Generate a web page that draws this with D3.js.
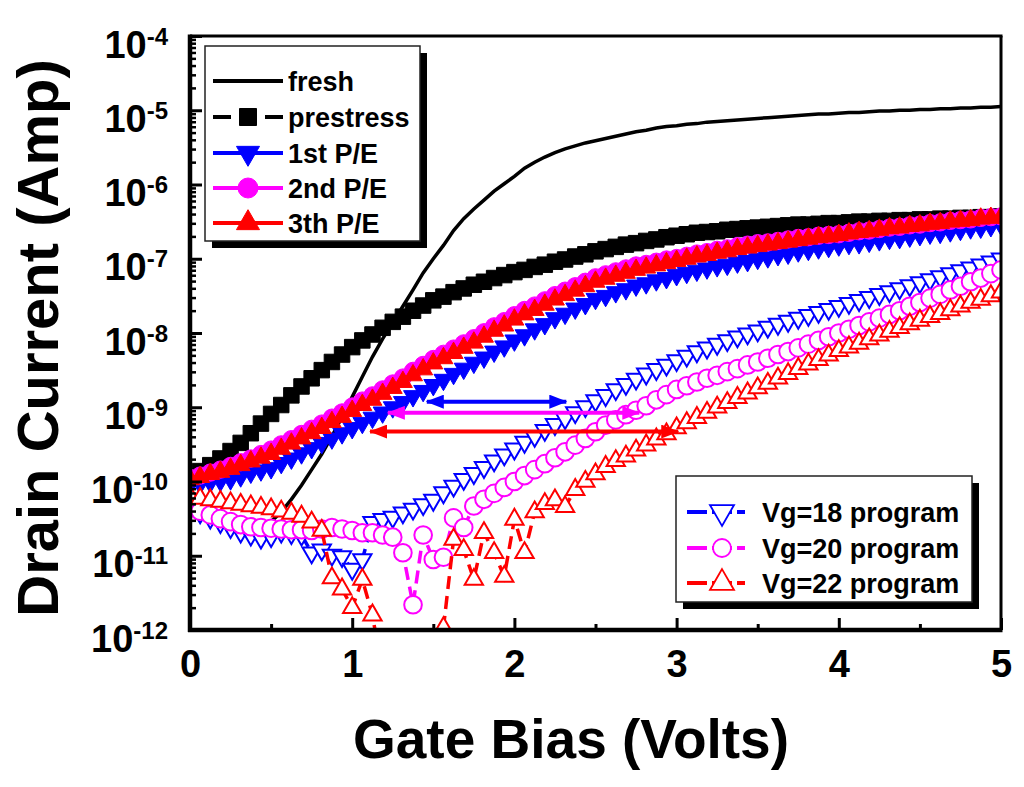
<!DOCTYPE html>
<html>
<head>
<meta charset="utf-8">
<script src="https://cdn.jsdelivr.net/npm/d3@7"></script>
<style>
  body { margin: 0; background: #fff; }
  svg text { font-family: "Liberation Sans", Arial, sans-serif; font-weight: bold; fill: #000; }
</style>
</head>
<body>
<div id="chart"></div>
<script>
// gate bias sweep (V) shared by all curves
const gateBias = [0,0.0625,0.125,0.1875,0.25,0.3125,0.375,0.4375,0.5,0.5625,0.625,0.6875,0.75,0.8125,0.875,0.9375,
  1,1.0625,1.125,1.1875,1.25,1.3125,1.375,1.4375,1.5,1.5625,1.625,1.6875,1.75,1.8125,1.875,1.9375,
  2,2.0625,2.125,2.1875,2.25,2.3125,2.375,2.4375,2.5,2.5625,2.625,2.6875,2.75,2.8125,2.875,2.9375,
  3,3.0625,3.125,3.1875,3.25,3.3125,3.375,3.4375,3.5,3.5625,3.625,3.6875,3.75,3.8125,3.875,3.9375,
  4,4.0625,4.125,4.1875,4.25,4.3125,4.375,4.4375,4.5,4.5625,4.625,4.6875,4.75,4.8125,4.875,4.9375,5];

// drain current, stored as log10(A)
const freshLog = [-10.28,-10.36,-10.43,-10.50,-10.57,-10.63,-10.66,-10.63,-10.54,-10.41,-10.24,-10.05,-9.84,-9.63,-9.39,-9.13,
  -8.86,-8.59,-8.32,-8.08,-7.86,-7.64,-7.42,-7.19,-7.00,-6.82,-6.62,-6.46,-6.33,-6.21,-6.09,-5.99,
  -5.89,-5.78,-5.70,-5.63,-5.57,-5.52,-5.48,-5.44,-5.41,-5.38,-5.35,-5.32,-5.29,-5.27,-5.24,-5.22,
  -5.21,-5.19,-5.18,-5.16,-5.15,-5.14,-5.13,-5.12,-5.11,-5.10,-5.09,-5.08,-5.07,-5.06,-5.05,-5.05,
  -5.04,-5.03,-5.03,-5.02,-5.01,-5.01,-5.00,-5.00,-4.99,-4.99,-4.98,-4.98,-4.97,-4.97,-4.96,-4.96,-4.95];

const prestressLog = [-9.93,-9.86,-9.78,-9.69,-9.59,-9.48,-9.35,-9.22,-9.09,-8.97,-8.84,-8.72,-8.61,-8.50,-8.39,-8.29,
  -8.19,-8.10,-8.02,-7.93,-7.85,-7.78,-7.70,-7.63,-7.56,-7.51,-7.45,-7.40,-7.35,-7.31,-7.26,-7.22,
  -7.18,-7.15,-7.11,-7.08,-7.04,-7.01,-6.97,-6.94,-6.90,-6.87,-6.84,-6.81,-6.79,-6.76,-6.74,-6.71,
  -6.69,-6.67,-6.65,-6.64,-6.63,-6.61,-6.60,-6.59,-6.58,-6.57,-6.56,-6.55,-6.54,-6.54,-6.53,-6.52,
  -6.52,-6.51,-6.50,-6.50,-6.49,-6.49,-6.48,-6.48,-6.47,-6.47,-6.46,-6.46,-6.45,-6.45,-6.44,-6.44,-6.43];

const pe1Log = [-10.04,-10.03,-10.01,-9.99,-9.97,-9.93,-9.88,-9.85,-9.82,-9.75,-9.69,-9.62,-9.55,-9.48,-9.42,-9.35,
  -9.28,-9.21,-9.14,-9.07,-9.00,-8.93,-8.85,-8.78,-8.70,-8.63,-8.55,-8.48,-8.40,-8.33,-8.25,-8.18,
  -8.10,-8.03,-7.95,-7.88,-7.80,-7.74,-7.67,-7.61,-7.54,-7.50,-7.45,-7.41,-7.36,-7.33,-7.29,-7.26,
  -7.22,-7.19,-7.16,-7.13,-7.10,-7.08,-7.05,-7.03,-7.00,-6.98,-6.95,-6.93,-6.90,-6.88,-6.86,-6.84,
  -6.82,-6.80,-6.79,-6.77,-6.75,-6.73,-6.72,-6.70,-6.68,-6.66,-6.65,-6.63,-6.61,-6.59,-6.58,-6.56,-6.54];

const pe2Log = [-9.95,-9.92,-9.88,-9.84,-9.79,-9.74,-9.69,-9.63,-9.57,-9.50,-9.43,-9.36,-9.29,-9.22,-9.14,-9.07,
  -8.99,-8.91,-8.84,-8.76,-8.68,-8.60,-8.51,-8.43,-8.35,-8.28,-8.21,-8.14,-8.07,-7.99,-7.91,-7.84,
  -7.76,-7.69,-7.63,-7.56,-7.49,-7.43,-7.37,-7.31,-7.25,-7.21,-7.17,-7.13,-7.09,-7.07,-7.04,-7.01,
  -6.99,-6.96,-6.93,-6.91,-6.88,-6.86,-6.83,-6.81,-6.79,-6.78,-6.76,-6.74,-6.72,-6.71,-6.69,-6.68,
  -6.67,-6.65,-6.63,-6.62,-6.60,-6.58,-6.57,-6.55,-6.54,-6.52,-6.51,-6.49,-6.48,-6.47,-6.45,-6.44,-6.43];

const pe3Log = [-9.97,-9.94,-9.90,-9.87,-9.83,-9.78,-9.73,-9.68,-9.63,-9.56,-9.49,-9.42,-9.35,-9.28,-9.20,-9.13,
  -9.05,-8.97,-8.90,-8.82,-8.74,-8.66,-8.57,-8.49,-8.41,-8.34,-8.27,-8.20,-8.13,-8.05,-7.97,-7.90,
  -7.82,-7.75,-7.69,-7.62,-7.55,-7.49,-7.43,-7.37,-7.31,-7.27,-7.23,-7.19,-7.15,-7.12,-7.09,-7.06,
  -7.03,-7.00,-6.97,-6.95,-6.92,-6.90,-6.87,-6.85,-6.83,-6.81,-6.79,-6.77,-6.75,-6.73,-6.71,-6.70,
  -6.68,-6.66,-6.64,-6.63,-6.61,-6.59,-6.58,-6.56,-6.55,-6.53,-6.52,-6.50,-6.49,-6.48,-6.46,-6.45,-6.44];

const vg18Log = [-10.35,-10.42,-10.49,-10.55,-10.62,-10.68,-10.72,-10.76,-10.74,-10.68,-10.70,-10.72,-10.96,-10.92,-10.99,-11.01,
  -11.18,-11.05,-10.55,-10.51,-10.48,-10.42,-10.37,-10.31,-10.25,-10.15,-10.06,-9.97,-9.89,-9.81,-9.72,-9.64,
  -9.56,-9.47,-9.39,-9.31,-9.23,-9.15,-9.07,-8.99,-8.91,-8.84,-8.76,-8.69,-8.62,-8.55,-8.49,-8.43,
  -8.37,-8.31,-8.25,-8.20,-8.15,-8.10,-8.05,-8.01,-7.97,-7.92,-7.88,-7.84,-7.80,-7.76,-7.72,-7.68,
  -7.64,-7.60,-7.56,-7.52,-7.48,-7.44,-7.40,-7.36,-7.32,-7.28,-7.24,-7.20,-7.16,-7.12,-7.08,-7.04,-7.00];

const vg20Log = [-10.36,-10.40,-10.45,-10.50,-10.54,-10.58,-10.61,-10.62,-10.63,-10.64,-10.65,-10.65,-10.66,-10.64,-10.62,-10.64,
  -10.66,-10.69,-10.69,-10.72,-10.75,-10.96,-11.66,-10.72,-11.05,-11.02,-10.49,-10.62,-10.33,-10.24,-10.16,-10.08,
  -10.00,-9.92,-9.84,-9.76,-9.68,-9.60,-9.51,-9.42,-9.33,-9.24,-9.17,-9.10,-9.04,-8.98,-8.90,-8.83,
  -8.76,-8.71,-8.66,-8.61,-8.57,-8.52,-8.48,-8.43,-8.39,-8.34,-8.29,-8.25,-8.20,-8.15,-8.10,-8.05,
  -8.00,-7.95,-7.90,-7.85,-7.80,-7.75,-7.70,-7.64,-7.59,-7.53,-7.48,-7.42,-7.37,-7.31,-7.26,-7.20,-7.15];

const vg22Log = [-10.20,-10.23,-10.25,-10.27,-10.29,-10.31,-10.33,-10.35,-10.37,-10.40,-10.43,-10.47,-10.55,-10.66,-11.30,-11.45,
  -11.70,-11.32,-11.80,-12.60,-12.80,-12.50,-12.70,-12.40,-12.60,-11.97,-10.78,-10.92,-11.32,-10.69,-10.96,-11.28,
  -10.51,-10.96,-10.41,-10.30,-10.25,-10.34,-10.11,-10.00,-9.90,-9.80,-9.72,-9.66,-9.58,-9.51,-9.43,-9.36,
  -9.28,-9.21,-9.14,-9.07,-9.00,-8.94,-8.87,-8.81,-8.74,-8.68,-8.61,-8.55,-8.48,-8.42,-8.36,-8.30,
  -8.24,-8.19,-8.14,-8.08,-8.03,-7.98,-7.93,-7.88,-7.83,-7.78,-7.74,-7.69,-7.64,-7.59,-7.55,-7.50,-7.45];

const seriesNames = ["fresh", "prestress", "1st P/E", "2nd P/E", "3th P/E",
  "Vg=18 program", "Vg=20 program", "Vg=22 program"];
const seriesLogs = [freshLog, prestressLog, pe1Log, pe2Log, pe3Log, vg18Log, vg20Log, vg22Log];

// threshold-shift arrows (V from, V to, current level)
const arrowFrom = [1.46, 1.22, 1.11];
const arrowTo = [2.32, 2.77, 3.01];
const arrowCurrent = [1.19e-9, 8.4e-10, 4.7e-10];
const arrowColors = ["#0000ff", "#ff00ff", "#ff0000"];

const xTicks = [0, 1, 2, 3, 4, 5];
const xMinorTicks = [0.5, 1.5, 2.5, 3.5, 4.5];
const yDecades = [-12, -11, -10, -9, -8, -7, -6, -5, -4];

// ---- drawing styles (not data)
const styles = [
  {color: "#000", symbol: null, width: 3.5},
  {color: "#000", symbol: d3.symbolSquare, size: 240, filled: true, width: 2, dash: "10,6", lsize: 289},
  {color: "#0000ff", symbol: d3.symbolTriangle, size: 155, filled: true, down: true, width: 2, lsize: 230},
  {color: "#ff00ff", symbol: d3.symbolCircle, size: 235, filled: true, width: 2, lsize: 314},
  {color: "#ff0000", symbol: d3.symbolTriangle, size: 155, filled: true, width: 2, lsize: 230},
  {color: "#0000ff", symbol: d3.symbolTriangle, size: 145, filled: false, down: true, width: 3.5, dash: "13,7", lsize: 250},
  {color: "#ff00ff", symbol: d3.symbolCircle, size: 245, filled: false, width: 3.5, dash: "13,7", lsize: 254},
  {color: "#ff0000", symbol: d3.symbolTriangle, size: 145, filled: false, width: 3.5, dash: "13,7", lsize: 250}
];

const width = 1024, height = 787;
const plot = {left: 190, right: 1001, top: 36, bottom: 630};

const svg = d3.select("#chart").append("svg")
  .attr("width", width)
  .attr("height", height);

const x = d3.scaleLinear().domain([0, 5]).range([plot.left, plot.right]);
const y = d3.scaleLog().domain([1e-12, 1e-4]).range([plot.bottom, plot.top]);

svg.append("defs").append("clipPath").attr("id", "plotClip")
  .append("rect")
  .attr("x", plot.left).attr("y", plot.top)
  .attr("width", plot.right - plot.left).attr("height", plot.bottom - plot.top);

// build table for the library
const series = seriesNames.map((name, i) => ({
  name: name,
  style: styles[i],
  points: gateBias.map((v, j) => ({v: v, id: Math.pow(10, seriesLogs[i][j])}))
}));

const line = d3.line().x(d => x(d.v)).y(d => y(d.id));

const plotG = svg.append("g").attr("clip-path", "url(#plotClip)");

function markerPath(st, size) {
  return d3.symbol().type(st.symbol).size(size)();
}

series.forEach(s => {
  const st = s.style;
  const g = plotG.append("g");
  g.append("path")
    .datum(s.points)
    .attr("d", line)
    .attr("fill", "none")
    .attr("stroke", st.color)
    .attr("stroke-width", st.width)
    .attr("stroke-dasharray", st.dash || null);
  if (st.symbol) {
    g.selectAll("path.pt")
      .data(s.points)
      .enter().append("path")
      .attr("class", "pt")
      .attr("d", markerPath(st, st.size))
      .attr("transform", d => `translate(${x(d.v)},${y(d.id)})` + (st.down ? " rotate(180)" : ""))
      .attr("fill", st.filled ? st.color : "#fff")
      .attr("stroke", st.color)
      .attr("stroke-width", st.filled ? 1 : 2);
  }
});

// arrows
const defs = svg.select("defs");
arrowColors.forEach((c, i) => {
  defs.append("marker")
    .attr("id", "arrow" + i)
    .attr("viewBox", "0 0 18 14")
    .attr("refX", 17).attr("refY", 7)
    .attr("markerWidth", 18).attr("markerHeight", 14)
    .attr("markerUnits", "userSpaceOnUse")
    .attr("orient", "auto-start-reverse")
    .append("path")
    .attr("d", "M0,0L18,7L0,14Z")
    .attr("fill", c);
});

svg.append("g").selectAll("line")
  .data(arrowFrom.map((a, i) => ({from: a, to: arrowTo[i], level: arrowCurrent[i], i: i})))
  .enter().append("line")
  .attr("x1", d => x(d.from)).attr("x2", d => x(d.to))
  .attr("y1", d => y(d.level)).attr("y2", d => y(d.level))
  .attr("stroke", d => arrowColors[d.i])
  .attr("stroke-width", 4)
  .attr("marker-start", d => `url(#arrow${d.i})`)
  .attr("marker-end", d => `url(#arrow${d.i})`);

// axes
const xAxis = d3.axisBottom(x).tickValues(xTicks).tickSize(-12).tickSizeOuter(0).tickPadding(20)
  .tickFormat(d3.format("d"));
const gx = svg.append("g").attr("transform", `translate(0,${plot.bottom})`).call(xAxis);
gx.select(".domain").remove();
gx.selectAll(".tick line").attr("stroke", "#000").attr("stroke-width", 3);
gx.selectAll(".tick text").style("font-size", "38px");

const gxm = svg.append("g").attr("transform", `translate(0,${plot.bottom})`)
  .call(d3.axisBottom(x).tickValues(xMinorTicks).tickSize(-6).tickSizeOuter(0).tickFormat(""));
gxm.select(".domain").remove();
gxm.selectAll(".tick line").attr("stroke", "#000").attr("stroke-width", 3);

const yAxis = d3.axisLeft(y).tickValues(yDecades.map(e => Math.pow(10, e))).tickSize(-12).tickSizeOuter(0).tickFormat("");
const gy = svg.append("g").attr("transform", `translate(${plot.left},0)`).call(yAxis);
gy.select(".domain").remove();
gy.selectAll(".tick line").attr("stroke", "#000").attr("stroke-width", 3);
gy.selectAll(".tick").each(function(d, i) {
  const t = d3.select(this).append("text")
    .attr("x", -22).attr("y", 21)
    .attr("text-anchor", "end")
    .style("font-size", "38px");
  t.append("tspan").text("10");
  t.append("tspan").attr("dy", -13).style("font-size", "24px").text("-" + Math.abs(yDecades[i]));
});

const yMinor = [];
yDecades.slice(0, -1).forEach(e => {
  for (let k = 2; k <= 9; k++) yMinor.push(k * Math.pow(10, e));
});
const gym = svg.append("g").attr("transform", `translate(${plot.left},0)`)
  .call(d3.axisLeft(y).tickValues(yMinor).tickSize(-6).tickSizeOuter(0).tickFormat(""));
gym.select(".domain").remove();
gym.selectAll(".tick line").attr("stroke", "#000").attr("stroke-width", 2.5);

// frame
svg.append("line").attr("x1", plot.left).attr("x2", plot.left).attr("y1", plot.top - 1.5).attr("y2", plot.bottom + 2)
  .attr("stroke", "#000").attr("stroke-width", 4.5);
svg.append("line").attr("x1", plot.left - 2).attr("x2", plot.right + 1.5).attr("y1", plot.bottom).attr("y2", plot.bottom)
  .attr("stroke", "#000").attr("stroke-width", 4.5);
svg.append("line").attr("x1", plot.left).attr("x2", plot.right + 1.5).attr("y1", plot.top).attr("y2", plot.top)
  .attr("stroke", "#000").attr("stroke-width", 3);
svg.append("line").attr("x1", plot.right).attr("x2", plot.right).attr("y1", plot.top).attr("y2", plot.bottom)
  .attr("stroke", "#000").attr("stroke-width", 3);

// axis titles
svg.append("text")
  .attr("x", 571).attr("y", 758)
  .attr("text-anchor", "middle")
  .style("font-size", "55px")
  .text("Gate Bias (Volts)");
svg.append("text")
  .attr("transform", "translate(58,338) rotate(-90)")
  .attr("text-anchor", "middle")
  .style("font-size", "58px")
  .text("Drain Current (Amp)");

// legends
function legend(box, items, sample, rowY) {
  const g = svg.append("g");
  g.append("rect").attr("x", box.x + 7).attr("y", box.y + 7).attr("width", box.w).attr("height", box.h).attr("fill", "#000");
  g.append("rect").attr("x", box.x).attr("y", box.y).attr("width", box.w).attr("height", box.h)
    .attr("fill", "#fff").attr("stroke", "#222").attr("stroke-width", 1.5);
  items.forEach((s, i) => {
    const st = s.style;
    const cy = rowY[i];
    g.append("line")
      .attr("x1", sample.x1).attr("x2", sample.x2).attr("y1", cy).attr("y2", cy)
      .attr("stroke", st.color).attr("stroke-width", 4)
      .attr("stroke-dasharray", st.symbol ? (st.dash ? sample.dash : null) : null);
    if (st.symbol) {
      g.append("path")
        .attr("d", markerPath(st, st.lsize))
        .attr("transform", `translate(${sample.mx},${cy})` + (st.down ? " rotate(180)" : ""))
        .attr("fill", st.filled ? st.color : "#fff")
        .attr("stroke", st.color)
        .attr("stroke-width", st.filled ? 1 : 1.8);
    }
    g.append("text")
      .attr("x", sample.tx).attr("y", cy + 10)
      .style("font-size", "27px")
      .text(s.name);
  });
}

legend({x: 205, y: 46, w: 215, h: 195}, series.slice(0, 5),
  {x1: 213, x2: 283, mx: 248, tx: 288, dash: "18,8"}, [81, 117, 153, 188, 223]);
legend({x: 676, y: 476, w: 296, h: 126}, series.slice(5),
  {x1: 687, x2: 745, mx: 722, tx: 762, dash: "20,5"}, [512, 548, 583]);
</script>
</body>
</html>
